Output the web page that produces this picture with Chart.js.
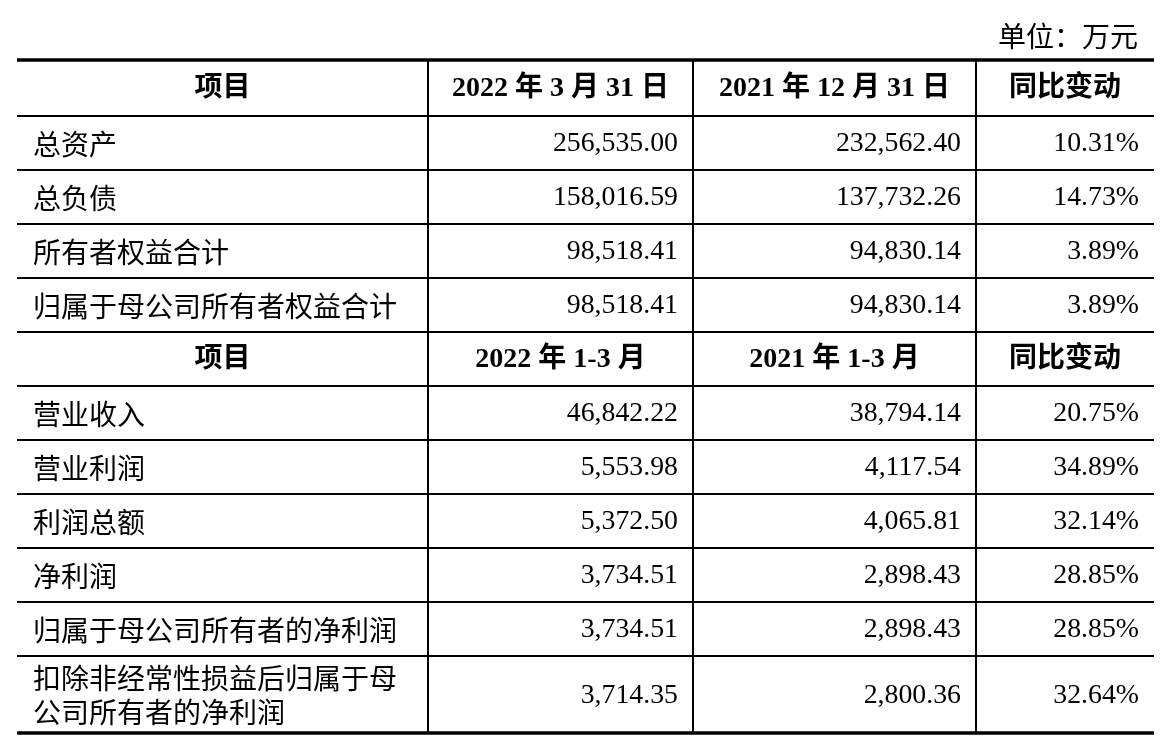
<!DOCTYPE html>
<html><head><meta charset="utf-8">
<script src="https://cdn.jsdelivr.net/npm/chart.js@4/dist/chart.umd.min.js"></script>
<style>html,body{margin:0;padding:0;background:#fff}#w{width:1174px;height:748px}</style>
</head><body><div id="w"><canvas id="c"></canvas></div>
<script>
const unitLabel = "单位：万元";
const headers1 = ["项目", "2022 年 3 月 31 日", "2021 年 12 月 31 日", "同比变动"];
const headers2 = ["项目", "2022 年 1-3 月", "2021 年 1-3 月", "同比变动"];
const items1 = ["总资产", "总负债", "所有者权益合计", "归属于母公司所有者权益合计"];
const col1a = ["256,535.00", "158,016.59", "98,518.41", "98,518.41"];
const col2a = ["232,562.40", "137,732.26", "94,830.14", "94,830.14"];
const chg1 = ["10.31%", "14.73%", "3.89%", "3.89%"];
const items2 = ["营业收入", "营业利润", "利润总额", "净利润", "归属于母公司所有者的净利润", "扣除非经常性损益后归属于母\n公司所有者的净利润"];
const col1b = ["46,842.22", "5,553.98", "5,372.50", "3,734.51", "3,734.51", "3,714.35"];
const col2b = ["38,794.14", "4,117.54", "4,065.81", "2,898.43", "2,898.43", "2,800.36"];
const chg2 = ["20.75%", "34.89%", "32.14%", "28.85%", "28.85%", "32.64%"];

// layout (not data)
const colB = [17, 428, 693, 976, 1154];
const rowB = [60, 116, 170, 224, 278, 332, 386, 440, 494, 548, 602, 656, 733];

const rows = [];
rows.push({h: true, cells: headers1});
items1.forEach((t, i) => rows.push({cells: [t, col1a[i], col2a[i], chg1[i]]}));
rows.push({h: true, cells: headers2});
items2.forEach((t, i) => rows.push({cells: [t, col1b[i], col2b[i], chg2[i]]}));

const tablePlugin = {
  id: 'table',
  afterDraw(chart) {
    const ctx = chart.ctx, xs = chart.scales.x, ys = chart.scales.y;
    const X = v => xs.getPixelForValue(v), Y = v => ys.getPixelForValue(v);
    ctx.save();
    ctx.strokeStyle = '#000';
    rowB.forEach((r, i) => {
      const thick = (i === 0 || i === rowB.length - 1);
      ctx.lineWidth = thick ? 3.5 : 2;
      ctx.beginPath(); ctx.moveTo(X(colB[0]), Y(r)); ctx.lineTo(X(colB[4]), Y(r)); ctx.stroke();
    });
    ctx.lineWidth = 2;
    for (let i = 1; i < colB.length - 1; i++) {
      ctx.beginPath(); ctx.moveTo(X(colB[i]), Y(rowB[0])); ctx.lineTo(X(colB[i]), Y(rowB[rowB.length - 1])); ctx.stroke();
    }
    ctx.fillStyle = '#000';
    ctx.textBaseline = 'middle';
    ctx.font = '28px "Liberation Serif", "Noto Sans CJK SC", serif';
    ctx.textAlign = 'right';
    ctx.fillText(unitLabel, X(1138), Y(40));
    rows.forEach((row, ri) => {
      const cy = (Y(rowB[ri]) + Y(rowB[ri + 1])) / 2 + 1;
      row.cells.forEach((txt, ci) => {
        if (row.h) {
          ctx.font = 'bold 28px "Liberation Serif", "Noto Sans CJK SC", serif';
          ctx.textAlign = 'center';
          ctx.fillText(txt, (X(colB[ci]) + X(colB[ci + 1])) / 2, cy);
        } else if (ci === 0) {
          ctx.font = '28px "Noto Sans CJK SC", serif';
          ctx.textAlign = 'left';
          const lines = txt.split('\n');
          lines.forEach((l, li) => ctx.fillText(l, X(33), cy + (li - (lines.length - 1) / 2) * 34));
        } else {
          ctx.font = '27.8px "Liberation Serif", serif';
          ctx.textAlign = 'right';
          ctx.fillText(txt, X(colB[ci + 1] - 15), cy);
        }
      });
    });
    ctx.restore();
  }
};

new Chart(document.getElementById('c'), {
  type: 'scatter',
  data: {datasets: [{data: []}]},
  options: {
    responsive: true, maintainAspectRatio: false, animation: false,
    layout: {padding: 0},
    plugins: {legend: {display: false}, tooltip: {enabled: false}},
    scales: {
      x: {type: 'linear', min: 0, max: 1174, display: false},
      y: {type: 'linear', min: 0, max: 748, reverse: true, display: false}
    }
  },
  plugins: [tablePlugin]
});
</script></body></html>
